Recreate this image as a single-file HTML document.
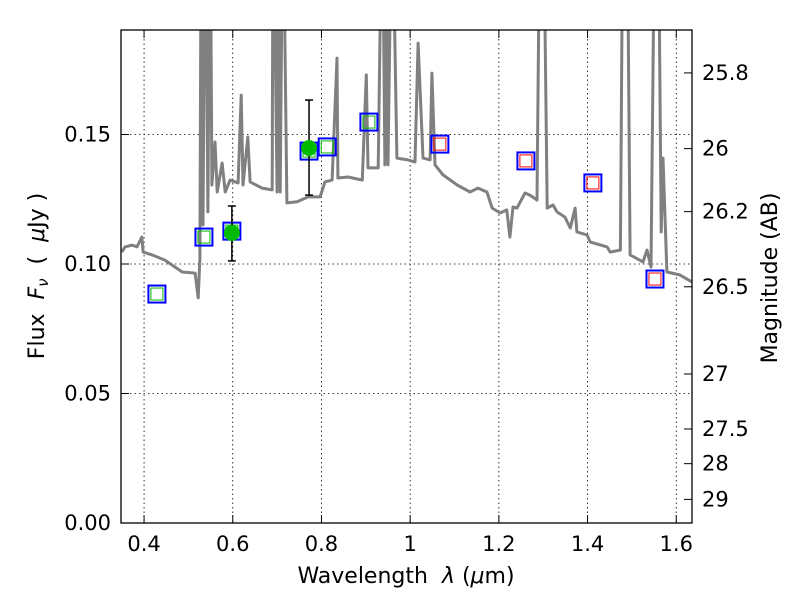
<!DOCTYPE html>
<html><head><meta charset="utf-8"><style>
html,body{margin:0;padding:0;background:#fff;}
svg text{font-family:"DejaVu Sans","Liberation Sans",sans-serif;}
</style></head><body>
<svg id="chart" width="800" height="600" viewBox="0 0 800 600" xmlns="http://www.w3.org/2000/svg">
<defs><clipPath id="plotclip"><rect x="121" y="30" width="571" height="493"/></clipPath></defs>
<g id="grid"></g>
<g id="spec" clip-path="url(#plotclip)"></g>
<g id="phot"></g>
<rect x="121" y="30" width="571" height="493" fill="none" stroke="#000" stroke-width="1.3"/>
<g id="axes"></g>
<text x="406" y="583" text-anchor="middle" font-size="22" xml:space="preserve">Wavelength  <tspan font-style="italic">λ</tspan> (<tspan font-style="italic">μ</tspan>m)</text>
<text transform="translate(44,276) rotate(-90)" text-anchor="middle" font-size="22" xml:space="preserve">Flux  <tspan font-style="italic">F<tspan font-size="15" dy="4">ν</tspan></tspan><tspan dy="-4">  (  </tspan><tspan font-style="italic">μ</tspan>Jy )</text>
<text transform="translate(777,278) rotate(-90)" text-anchor="middle" font-size="22">Magnitude (AB)</text>
</svg>
<script>
const specWave=[0.350,0.357,0.373,0.384,0.395,0.398,0.418,0.447,0.486,0.515,0.522,0.526,0.529,0.533,0.538,0.544,0.549,0.553,0.560,0.565,0.576,0.583,0.594,0.612,0.619,0.623,0.634,0.639,0.666,0.689,0.691,0.700,0.702,0.707,0.713,0.722,0.745,0.770,0.797,0.808,0.824,0.835,0.837,0.860,0.892,0.901,0.905,0.928,0.937,0.943,0.948,0.950,0.959,0.970,0.995,1.011,1.018,1.029,1.045,1.049,1.056,1.074,1.106,1.135,1.153,1.173,1.185,1.203,1.218,1.225,1.232,1.241,1.259,1.270,1.286,1.293,1.300,1.309,1.322,1.331,1.349,1.361,1.372,1.376,1.399,1.406,1.444,1.451,1.474,1.480,1.489,1.496,1.525,1.534,1.543,1.552,1.559,1.566,1.570,1.579,1.608,1.636];
const specFlux=[.1046,.1066,.1073,.1066,.1104,.1046,.1035,.1015,.0969,.0965,.0869,.1023,.25,.1151,.25,.1201,.25,.1305,.1471,.1278,.1390,.1278,.1324,.1313,.1652,.1305,.1490,.1317,.1293,.1286,.25,.1278,.25,.1278,.25,.1236,.1240,.1259,.1259,.1317,.1324,.1795,.1332,.1336,.1324,.1730,.1371,.1371,.25,.1383,.25,.1383,.25,.1409,.1402,.1394,.1853,.1409,.1402,.1737,.1383,.1344,.1305,.1278,.1293,.1278,.1216,.1197,.1209,.1104,.1220,.1216,.1274,.1266,.1247,.25,.25,.1216,.1228,.1201,.1181,.1139,.1216,.1124,.1112,.1085,.1066,.1046,.1054,.25,.25,.1035,.1008,.1054,.0988,.25,.25,.1124,.1409,.0969,.0958,.0930];
const photWave=[0.429,0.535,0.598,0.772,0.813,0.907,1.067,1.261,1.412,1.552];
const photFlux=[0.0884,0.1104,0.1127,0.1436,0.1452,0.1548,0.1463,0.1398,0.1313,0.0942];
const photInner=['green','green','green','green','green','green','red','red','red','red'];
const obsWave=[0.598,0.772];
const obsFlux=[0.112,0.1448];
const obsLow=[0.1012,0.1266];
const obsHigh=[0.1224,0.1633];
const xTicks=[0.4,0.6,0.8,1.0,1.2,1.4,1.6];
const xTickLabels=['0.4','0.6','0.8','1','1.2','1.4','1.6'];
const yTicks=[0,0.05,0.10,0.15];
const yTickLabels=['0.00','0.05','0.10','0.15'];
const magTicks=[25.8,26,26.2,26.5,27,27.5,28,29];
const magTickLabels=['25.8','26','26.2','26.5','27','27.5','28','29'];

const X0=121,X1=692,Y0=523,Y1=30,XMIN=0.348,XMAX=1.6355,YMIN=0,YMAX=0.19035;
const sx=w=>X0+(w-XMIN)/(XMAX-XMIN)*(X1-X0);
const sy=f=>Y0-(f-YMIN)/(YMAX-YMIN)*(Y0-Y1);
const NS='http://www.w3.org/2000/svg';
function mk(tag,attrs,parent){const e=document.createElementNS(NS,tag);for(const k in attrs)e.setAttribute(k,attrs[k]);parent.appendChild(e);return e;}
const grid=document.getElementById('grid'),spec=document.getElementById('spec'),phot=document.getElementById('phot'),axes=document.getElementById('axes');

xTicks.forEach((t,i)=>{
  const x=sx(t);
  const g=mk('line',{x1:x,x2:x,y1:Y1,y2:Y0,stroke:'#000','stroke-width':0.8,'stroke-dasharray':'1.5,3'},grid);
  
  
  mk('line',{x1:x,x2:x,y1:Y0,y2:Y0-8,stroke:'#000','stroke-width':1},axes);
  mk('line',{x1:x,x2:x,y1:Y1,y2:Y1+8,stroke:'#000','stroke-width':1},axes);
  const tx=mk('text',{x:x,y:Y0+28,'text-anchor':'middle','font-size':21},axes);
  tx.textContent=xTickLabels[i];
  
  
});
yTicks.forEach((t,i)=>{
  const y=sy(t);
  if(t>0){const g=mk('line',{x1:X0,x2:X1,y1:y,y2:y,stroke:'#000','stroke-width':0.8,'stroke-dasharray':'1.5,3'},grid);
  
  }
  mk('line',{x1:X0,x2:X0+8,y1:y,y2:y,stroke:'#000','stroke-width':1},axes);
  const tx=mk('text',{x:X0-10,y:y+7,'text-anchor':'end','font-size':21},axes);
  tx.textContent=yTickLabels[i];
  
  
});
magTicks.forEach((m,i)=>{
  const y=sy(Math.pow(10,(23.9-m)/2.5));
  mk('line',{x1:X1,x2:X1-8,y1:y,y2:y,stroke:'#000','stroke-width':1},axes);
  const tx=mk('text',{x:X1+10,y:y+7,'text-anchor':'start','font-size':21},axes);
  tx.textContent=magTickLabels[i];
  
  
});

const pts=specWave.map((w,i)=>sx(w).toFixed(1)+','+sy(specFlux[i]).toFixed(1)).join(' ');
const pl=mk('polyline',{points:pts,fill:'none',stroke:'#808080','stroke-width':3,'stroke-linejoin':'round'},spec);



photWave.forEach((w,i)=>{
  const x=sx(w),y=sy(photFlux[i]);
  const o=mk('rect',{x:x-8.5,y:y-8.5,width:17,height:17,fill:'none',stroke:'#0000ff','stroke-width':2},phot);
  
  
  const n=mk('rect',{x:x-6,y:y-6,width:12,height:12,fill:'none',stroke:photInner[i]==='green'?'#00bb00':'#ff0000','stroke-width':1},phot);
  
  
});
obsWave.forEach((w,i)=>{
  const x=sx(w),yl=sy(obsLow[i]),yh=sy(obsHigh[i]);
  const e=mk('line',{x1:x,x2:x,y1:yl,y2:yh,stroke:'#000','stroke-width':1.5},phot);
  
  
  mk('line',{x1:x-4,x2:x+4,y1:yl,y2:yl,stroke:'#000','stroke-width':1.5},phot);
  mk('line',{x1:x-4,x2:x+4,y1:yh,y2:yh,stroke:'#000','stroke-width':1.5},phot);
  const c=mk('circle',{cx:x,cy:sy(obsFlux[i]),r:8,fill:'#00bb00'},phot);
  
  
});
</script>
</body></html>
